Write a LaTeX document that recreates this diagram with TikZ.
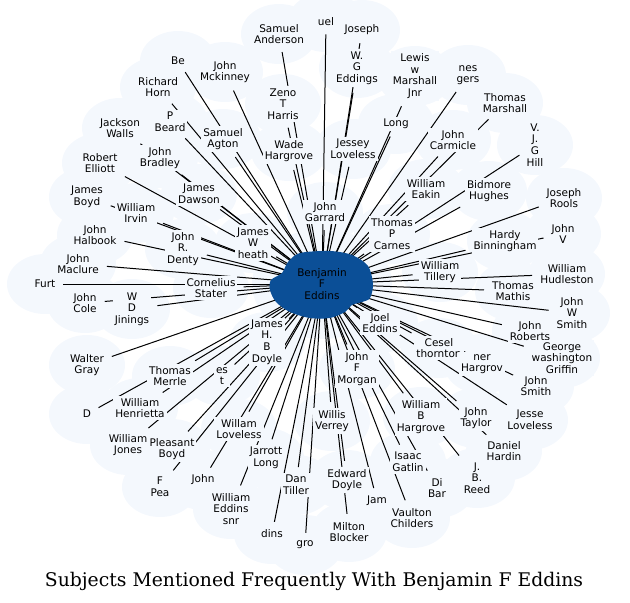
\documentclass[tikz,border=0pt]{standalone}
\usepackage{fontspec}
\setmainfont{DejaVu Sans}
\newfontfamily\titlefont{DejaVu Serif}
\definecolor{cloud}{RGB}{244,248,253}
\definecolor{hub}{RGB}{11,79,151}
\pgfdeclarelayer{clouds}
\pgfdeclarelayer{spokes}
\pgfsetlayers{clouds,spokes,main}

\begin{document}
\begin{tikzpicture}[x=1pt,y=-1pt,
    person/.style={font=\fontsize{10.5}{11.7}\selectfont,align=center,inner sep=2pt,fill=cloud},
    hubtext/.style={font=\fontsize{10.5}{11.7}\selectfont,align=center}]
\useasboundingbox (0,0) rectangle (630,603);
% central subject
\fill[hub] plot[smooth cycle] coordinates {(300,253) (330,251) (352,255) (368,266) (373,284)
  (370,298) (362,302) (352,305) (345,312) (330,318) (310,318) (290,312) (276,302) (270,290)
  (271,280) (282,273) (288,262)};
\node[hubtext] (0) at (322,284) {Benjamin\\F\\Eddins};
\begin{pgfonlayer}{clouds}
  \fill[cloud] (322,284) ellipse (70 and 55);
\end{pgfonlayer}
% people mentioned with him
\foreach \px/\py/\txt [count=\i] in {
  279/34/{Samuel\\Anderson}, 326/22/{uel}, 362/30/{Joseph}, 178/61/{Be},
  225/72/{John\\Mckinney}, 357/68/{W.\\G\\Eddings}, 415/76/{Lewis\\w\\Marshall\\Jnr},
  468/75/{nes\\gers}, 158/87/{Richard\\Horn}, 283/104/{Zeno\\T\\Harris},
  505/103/{Thomas\\Marshall}, 120/128/{Jackson\\Walls}, 170/122/{P\\Beard},
  223/139/{Samuel\\Agton}, 289/151/{Wade\\Hargrove}, 353/149/{Jessey\\Loveless},
  396/124/{Long}, 453/140/{John\\Carmicle}, 535/145/{V.\\J.\\G\\Hill},
  100/163/{Robert\\Elliott}, 160/158/{John\\Bradley}, 199/194/{James\\Dawson},
  426/189/{William\\Eakin}, 489/191/{Bidmore\\Hughes}, 564/198/{Joseph\\Rools},
  87/197/{James\\Boyd}, 136/213/{William\\Irvin}, 325/212/{John\\Garrard},
  392/234/{Thomas\\P\\Carnes}, 95/235/{John\\Halbook}, 183/249/{John\\R.\\Denty},
  253/243/{James\\W\\heath}, 505/241/{Hardy\\Binningham}, 563/234/{John\\V},
  78/264/{John\\Maclure}, 440/272/{William\\Tillery}, 567/274/{William\\Hudleston},
  45/284/{Furt}, 211/288/{Cornelius\\Stater}, 513/291/{Thomas\\Mathis},
  85/303/{John\\Cole}, 132/309/{W\\D\\Jinings}, 572/313/{John\\W\\Smith},
  380/323/{Joel\\Eddins}, 530/331/{John\\Roberts}, 439/348/{Cesel\\thornton},
  267/342/{James\\H.\\B\\Doyle}, 562/358/{George\\washington\\Griffin},
  87/365/{Walter\\Gray}, 482/364/{ner\\Hargrov}, 170/376/{Thomas\\Merrle},
  222/376/{es\\t}, 357/369/{John\\F\\Morgan}, 536/386/{John\\Smith},
  140/408/{William\\Henrietta}, 87/414/{D}, 421/417/{William\\B\\Hargrove},
  476/418/{John\\Taylor}, 530/420/{Jesse\\Loveless}, 332/421/{Willis\\Verrey},
  239/429/{Willam\\Loveless}, 128/445/{William\\Jones}, 172/449/{Pleasant\\Boyd},
  504/451/{Daniel\\Hardin}, 266/458/{Jarrott\\Long}, 408/462/{Isaac\\Gatlin},
  347/480/{Edward\\Doyle}, 296/485/{Dan\\Tiller}, 477/478/{J.\\B.\\Reed},
  203/480/{John}, 160/487/{F\\Pea}, 437/488/{Di\\Bar}, 377/501/{Jam},
  231/509/{William\\Eddins\\snr}, 412/518/{Vaulton\\Childers}, 272/534/{dins},
  305/545/{gro}, 349/532/{Milton\\Blocker}}{
  \node[person] (\i) at (\px,\py) {\txt};
  \begin{pgfonlayer}{clouds}
    \fill[cloud] (\px,\py) ellipse (38 and 30);
  \end{pgfonlayer}
  \begin{pgfonlayer}{spokes}
    \path[line width=1pt,shorten >=6pt] (0) edge (\i);
  \end{pgfonlayer}
}
\node (title) at (314,581) {\titlefont\fontsize{18.8}{22}\selectfont Subjects Mentioned Frequently With Benjamin F Eddins};
\end{tikzpicture}
\end{document}
